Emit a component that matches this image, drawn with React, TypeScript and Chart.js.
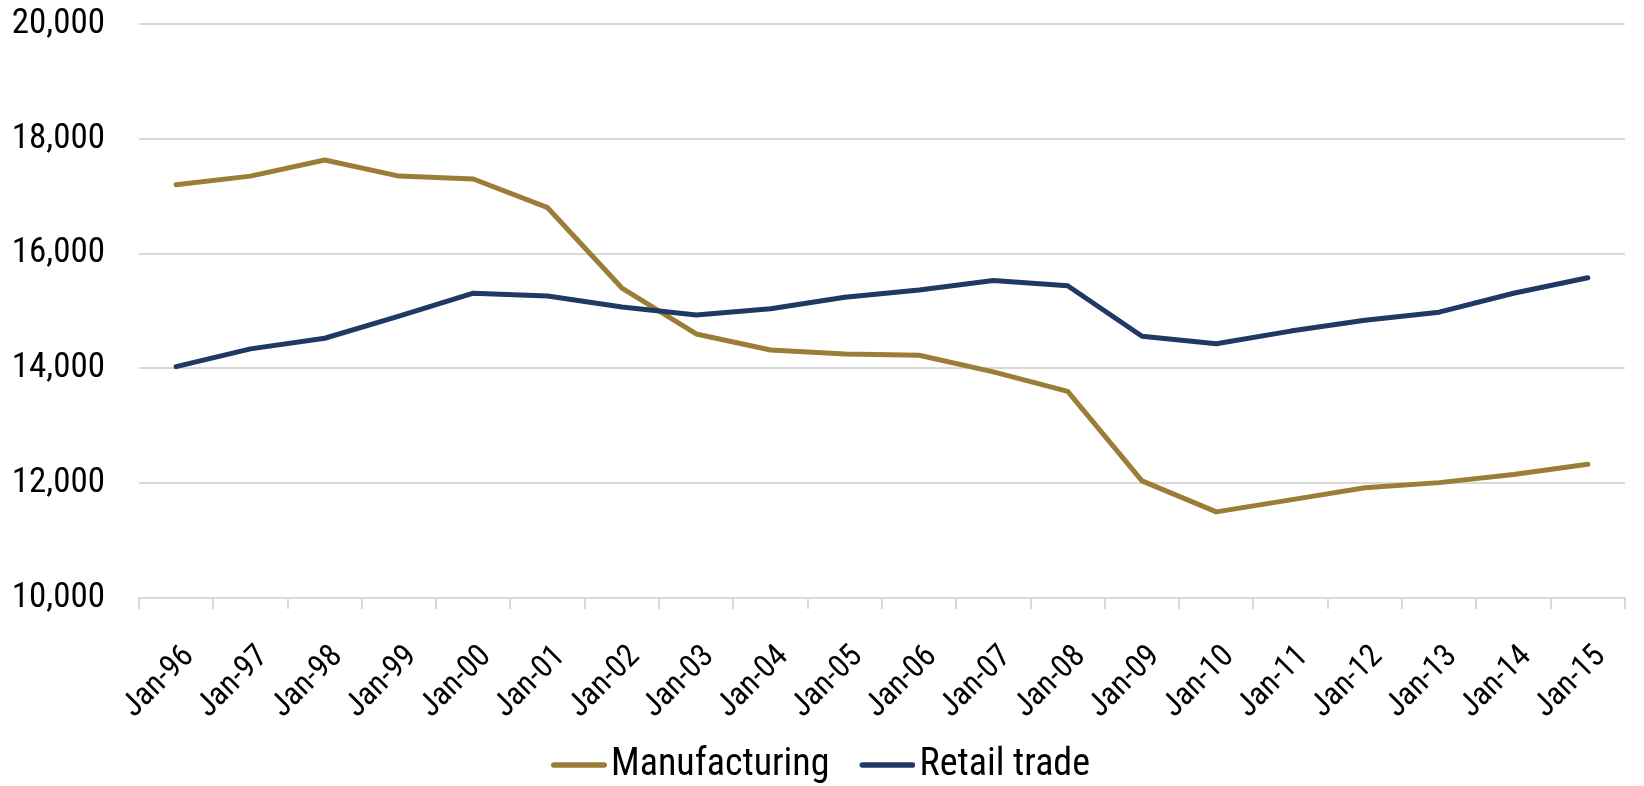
import React, { useEffect, useRef } from "react";
import { Chart, registerables } from "chart.js";

Chart.register(...registerables);

const categories = [
  "Jan-96", "Jan-97", "Jan-98", "Jan-99", "Jan-00", "Jan-01", "Jan-02", "Jan-03", "Jan-04", "Jan-05",
  "Jan-06", "Jan-07", "Jan-08", "Jan-09", "Jan-10", "Jan-11", "Jan-12", "Jan-13", "Jan-14", "Jan-15",
];

const manufacturing = [
  17200, 17350, 17630, 17350, 17300, 16800, 15400, 14600, 14320, 14250,
  14230, 13940, 13600, 12040, 11500, 11710, 11920, 12010, 12150, 12330,
];

const retailTrade = [
  14030, 14340, 14525, 14910, 15310, 15260, 15070, 14930, 15040, 15240,
  15365, 15530, 15440, 14560, 14430, 14650, 14840, 14980, 15310, 15580,
];

const seriesNames = ["Manufacturing", "Retail trade"];
const yMin = 10000;
const yMax = 20000;
const yStep = 2000;

const GOLD = "#9C7D38";
const NAVY = "#1F3864";
const GRID = "#D9D9D9";
const FONT = "Roboto, 'Open Sans', sans-serif";
const STRETCH = "condensed";

function makeLegendLine(color: string): HTMLCanvasElement {
  // 56px line whose visible part starts at the legend item's left edge
  const c = document.createElement("canvas");
  c.width = 71;
  c.height = 10;
  const ctx = c.getContext("2d")!;
  ctx.strokeStyle = color;
  ctx.lineWidth = 5.5;
  ctx.lineCap = "round";
  ctx.beginPath();
  ctx.moveTo(17.75, 5);
  ctx.lineTo(68.25, 5);
  ctx.stroke();
  return c;
}

export default function App() {
  const ref = useRef<HTMLCanvasElement | null>(null);

  useEffect(() => {
    document.body.style.margin = "0";
    if (!ref.current) return;
    const goldImg = makeLegendLine(GOLD);
    const navyImg = makeLegendLine(NAVY);

    const chart = new Chart(ref.current, {
      type: "line",
      data: {
        labels: categories,
        datasets: [
          {
            label: seriesNames[0],
            data: manufacturing,
            borderColor: GOLD,
            backgroundColor: GOLD,
            borderWidth: 5,
            pointRadius: 0,
            tension: 0,
            borderCapStyle: "round",
            borderJoinStyle: "round",
            pointStyle: goldImg as any,
            order: 1,
          },
          {
            label: seriesNames[1],
            data: retailTrade,
            borderColor: NAVY,
            backgroundColor: NAVY,
            borderWidth: 5,
            pointRadius: 0,
            tension: 0,
            borderCapStyle: "round",
            borderJoinStyle: "round",
            pointStyle: navyImg as any,
            order: 0,
          },
        ],
      },
      options: {
        animation: false,
        responsive: true,
        maintainAspectRatio: false,
        layout: { padding: { top: 24, right: 3, left: 0, bottom: 0 } },
        plugins: {
          tooltip: { enabled: false },
          legend: {
            position: "bottom",
            maxHeight: 70,
            labels: {
              usePointStyle: true,
              pointStyleWidth: 41,
              padding: 30,
              color: "#000",
              font: { family: FONT, size: 38, weight: STRETCH as any },
              sort: (a: any, b: any) => a.datasetIndex - b.datasetIndex,
            },
          },
        },
        scales: {
          x: {
            offset: true,
            grid: {
              display: true,
              drawOnChartArea: false,
              drawTicks: true,
              tickLength: 11,
              offset: true,
              color: GRID,
              lineWidth: 2,
            },
            border: { display: true, color: GRID, width: 2 },
            ticks: {
              autoSkip: false,
              maxRotation: 45,
              minRotation: 45,
              padding: 29,
              labelOffset: 13,
              color: "#000",
              font: { family: FONT, size: 32, weight: STRETCH as any },
            },
            afterFit: (scale: any) => {
              scale.height = 118;
            },
          },
          y: {
            min: yMin,
            max: yMax,
            grid: {
              color: GRID,
              lineWidth: 2,
              drawTicks: true,
              tickLength: 34,
              tickColor: "rgba(0,0,0,0)",
            },
            border: { display: false },
            ticks: {
              stepSize: yStep,
              padding: 0,
              color: "#000",
              font: { family: FONT, size: 35, weight: STRETCH as any },
            },
            afterFit: (scale: any) => {
              scale.width = 139;
            },
          },
        },
      },
    });
    return () => chart.destroy();
  }, []);

  return (
    <div style={{ position: "relative", width: "1644px", height: "786px" }}>
      <canvas ref={ref} />
    </div>
  );
}
